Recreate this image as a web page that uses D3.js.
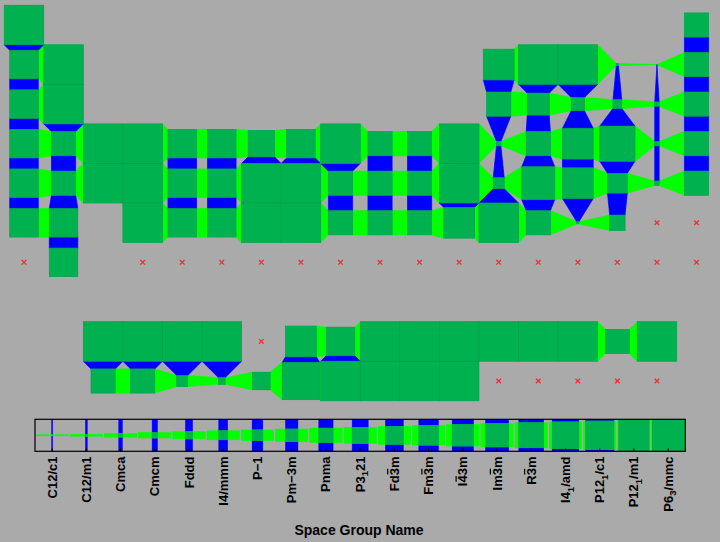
<!DOCTYPE html>
<html><head><meta charset="utf-8">
<script src="https://cdn.jsdelivr.net/npm/d3@7"></script>
<style>body{margin:0;background:#aaaaaa;} svg{display:block;}</style>
</head><body>
<svg id="chart" width="720" height="542"></svg>
<script>
// ---- data ----
const spaceGroups = ["C12/c1","C12/m1","Cmca","Cmcm","Fddd","I4/mmm","P-1","Pm-3m","Pnma","P3_121",
  "Fd-3m","Fm-3m","I-43m","Im-3m","R-3m","I4_1/amd","P12_1/c1","P12_1/m1","P6_3/mmc"];
// "_" = subscript next char, "^" = overbar next char
const spaceGroupLabels = ["C12/c1","C12/m1","Cmca","Cmcm","Fddd","I4/mmm","P\u22121","Pm\u22123m","Pnma","P3_121",
  "Fd^3m","Fm^3m","I^43m","Im^3m","R^3m","I4_1/amd","P12_1/c1","P12_1/m1","P6_3/mmc"];

const period1 = [["H",1,"P6_3/mmc"],["He",18,"Fm-3m"]];
const period2 = [["Li",1,"Im-3m"],["Be",2,"P6_3/mmc"],["B",13,"R-3m"],["C",14,"P6_3/mmc"],["N",15,"P6_3/mmc"],
  ["O",16,"C12/m1"],["F",17,"C12/c1"],["Ne",18,"Fm-3m"]];
const period3 = [["Na",1,"Im-3m"],["Mg",2,"P6_3/mmc"],["Al",13,"Fm-3m"],["Si",14,"Fd-3m"],["P",15,"P-1"],
  ["S",16,"Fddd"],["Cl",17,"Cmca"],["Ar",18,"Fm-3m"]];
const period4 = [["K",1,"Im-3m"],["Ca",2,"Fm-3m"],["Sc",3,"P6_3/mmc"],["Ti",4,"P6_3/mmc"],["V",5,"Im-3m"],
  ["Cr",6,"Im-3m"],["Mn",7,"I-43m"],["Fe",8,"Im-3m"],["Co",9,"P6_3/mmc"],["Ni",10,"Fm-3m"],["Cu",11,"Fm-3m"],
  ["Zn",12,"P6_3/mmc"],["Ga",13,"Cmca"],["Ge",14,"Fm-3m"],["As",15,"R-3m"],["Se",16,"P12_1/c1"],
  ["Br",17,"Cmca"],["Kr",18,"Fm-3m"]];
const period5 = [["Rb",1,"Im-3m"],["Sr",2,"Fm-3m"],["Y",3,"P6_3/mmc"],["Zr",4,"P6_3/mmc"],["Nb",5,"Im-3m"],
  ["Mo",6,"Im-3m"],["Tc",7,"P6_3/mmc"],["Ru",8,"P6_3/mmc"],["Rh",9,"Fm-3m"],["Pd",10,"Fm-3m"],["Ag",11,"Fm-3m"],
  ["Cd",12,"P6_3/mmc"],["In",13,"I4/mmm"],["Sn",14,"I4_1/amd"],["Sb",15,"R-3m"],["Te",16,"P3_121"],
  ["I",17,"Cmca"],["Xe",18,"Fm-3m"]];
const period6 = [["Cs",1,"Im-3m"],["Ba",2,"Im-3m"],["Hf",4,"P6_3/mmc"],["Ta",5,"Im-3m"],["W",6,"Im-3m"],
  ["Re",7,"P6_3/mmc"],["Os",8,"P6_3/mmc"],["Ir",9,"Fm-3m"],["Pt",10,"Fm-3m"],["Au",11,"Fm-3m"],["Hg",12,"R-3m"],
  ["Tl",13,"P6_3/mmc"],["Pb",14,"Fm-3m"],["Bi",15,"C12/m1"],["Po",16,"Pm-3m"],["At",17,null],["Rn",18,null]];
const period7 = [["Fr",1,null],["Ra",2,"Im-3m"],["Rf",4,null],["Db",5,null],["Sg",6,null],["Bh",7,null],
  ["Hs",8,null],["Mt",9,null],["Ds",10,null],["Rg",11,null],["Cn",12,null],["Nh",13,null],["Fl",14,null],
  ["Mc",15,null],["Lv",16,null],["Ts",17,null],["Og",18,null]];
const lanthanides = [["La",3,"P6_3/mmc"],["Ce",4,"P6_3/mmc"],["Pr",5,"P6_3/mmc"],["Nd",6,"P6_3/mmc"],["Pm",7,null],
  ["Sm",8,"R-3m"],["Eu",9,"Im-3m"],["Gd",10,"P6_3/mmc"],["Tb",11,"P6_3/mmc"],["Dy",12,"P6_3/mmc"],
  ["Ho",13,"P6_3/mmc"],["Er",14,"P6_3/mmc"],["Tm",15,"P6_3/mmc"],["Yb",16,"Fm-3m"],["Lu",17,"P6_3/mmc"]];
const actinides = [["Ac",3,"Fm-3m"],["Th",4,"Fm-3m"],["Pa",5,"I4/mmm"],["U",6,"Cmcm"],["Np",7,"Pnma"],
  ["Pu",8,"P12_1/m1"],["Am",9,"P6_3/mmc"],["Cm",10,"P6_3/mmc"],["Bk",11,"P6_3/mmc"],["Cf",12,"P6_3/mmc"],
  ["Es",13,null],["Fm",14,null],["Md",15,null],["No",16,null],["Lr",17,null]];
// display rows 1..10 (row 8 is the gap above the f-block)
const tableRows = [period1, period2, period3, period4, period5, period6, period7, [], lanthanides, actinides];

// ---- colours ----
const BG = "#aaaaaa", DARK = "#00b14f", LIGHT = "#00ff00", BLUE = "#0000ff";

const svg = d3.select("#chart");
svg.append("rect").attr("width", 720).attr("height", 542).attr("fill", BG);

// ---- scales ----
const x = d3.scaleLinear().domain([1, 18]).range([24, 696.5]);
const y = d3.scaleLinear().domain([1, 10]).range([25, 381]);
const pitch = x(2) - x(1);
const size = d3.scalePoint().domain(spaceGroups).range([0, pitch]);

const cells = [];
tableRows.forEach((row, ri) => row.forEach(([sym, grp, sg]) => cells.push({sym, grp, row: ri + 1, sg})));
const lookup = new Map(cells.map(c => [c.row + "-" + c.grp, c]));

const hLinks = [], vLinks = [];
cells.filter(c => c.sg).forEach(c => {
  const r = lookup.get(c.row + "-" + (c.grp + 1));
  if (r && r.sg) hLinks.push([c, r]);
  const b = lookup.get((c.row + 1) + "-" + c.grp);
  if (b && b.sg) vLinks.push([c, b]);
});

const map = svg.append("g");
map.selectAll("polygon.h").data(hLinks).join("polygon").attr("class", "h")
  .attr("points", ([a, b]) => {
    const sa = size(a.sg), sb = size(b.sg), cy = y(a.row);
    const ax = x(a.grp) + sa / 2, bx = x(b.grp) - sb / 2;
    return [[ax, cy - sa / 2], [bx, cy - sb / 2], [bx, cy + sb / 2], [ax, cy + sa / 2]].join(" ");
  })
  .attr("fill", LIGHT).attr("stroke", LIGHT).attr("stroke-width", 0.7);

map.selectAll("polygon.v").data(vLinks).join("polygon").attr("class", "v")
  .attr("points", ([a, b]) => {
    const sa = size(a.sg), sb = size(b.sg), cx = x(a.grp);
    const ay = y(a.row) + sa / 2, by = y(b.row) - sb / 2;
    return [[cx - sa / 2, ay], [cx + sa / 2, ay], [cx + sb / 2, by], [cx - sb / 2, by]].join(" ");
  })
  .attr("fill", BLUE).attr("stroke", BLUE).attr("stroke-width", 0.7);

map.selectAll("rect.cell").data(cells.filter(c => c.sg)).join("rect").attr("class", "cell")
  .attr("x", c => x(c.grp) - size(c.sg) / 2)
  .attr("y", c => y(c.row) - size(c.sg) / 2)
  .attr("width", c => size(c.sg)).attr("height", c => size(c.sg))
  .attr("fill", DARK).attr("stroke", "#00a34c").attr("stroke-width", 0.7);

map.selectAll("path.miss").data(cells.filter(c => !c.sg)).join("path").attr("class", "miss")
  .attr("transform", c => `translate(${x(c.grp)},${y(c.row)})`)
  .attr("d", "M-2.3,-2.3L2.3,2.3M-2.3,2.3L2.3,-2.3")
  .attr("stroke", "#ee3030").attr("stroke-width", 1.3).attr("fill", "none");

// ---- legend strip ----
const lTop = 419.3, lH = 32;
const lx = d3.scaleBand().domain(spaceGroups).range([35, 685.3]);
const bw = lx.bandwidth();
const lSize = d3.scalePoint().domain(spaceGroups).range([0, lH]);
const mid = lTop + lH / 2;
const minS = d => Math.max(lSize(d), 1);

svg.append("clipPath").attr("id", "lclip").append("rect")
  .attr("x", 35).attr("y", lTop).attr("width", 650.3).attr("height", lH);
const leg = svg.append("g").attr("clip-path", "url(#lclip)");
const lg = leg.selectAll("g").data(spaceGroups).join("g");
lg.append("rect").attr("x", d => lx(d) + bw / 2 - minS(d) / 2).attr("y", lTop)
  .attr("width", d => minS(d)).attr("height", lH)
  .attr("fill", BLUE).attr("stroke", BLUE).attr("stroke-width", 0.5);
lg.append("rect").attr("x", d => lx(d) + 0.9).attr("y", d => mid - minS(d) / 2)
  .attr("width", bw - 1.8).attr("height", d => minS(d))
  .attr("fill", LIGHT).attr("stroke", LIGHT).attr("stroke-width", 0.6);
lg.filter(d => lSize(d) > 0).append("rect")
  .attr("x", d => lx(d) + bw / 2 - lSize(d) / 2).attr("y", d => mid - lSize(d) / 2)
  .attr("width", d => lSize(d)).attr("height", d => lSize(d))
  .attr("fill", DARK).attr("stroke", "#00a34c").attr("stroke-width", 0.6);

svg.append("rect").attr("x", 35).attr("y", lTop).attr("width", 650.3).attr("height", lH)
  .attr("fill", "none").attr("stroke", "#000").attr("stroke-width", 1.2);

const axis = svg.append("g").attr("transform", `translate(0,${lTop + lH})`)
  .call(d3.axisBottom(lx).tickSize(-3).tickFormat(() => ""));
axis.select(".domain").remove();
axis.selectAll(".tick line").attr("stroke", "#000");

// rotated labels with subscripts/overbars
const FS = 13;
spaceGroups.forEach((sg, i) => {
  const label = spaceGroupLabels[i];
  const g = svg.append("g")
    .attr("transform", `translate(${lx(sg) + bw / 2},456.5) rotate(-90)`);
  const t = g.append("text").attr("y", 4.5).attr("text-anchor", "end")
    .attr("font-family", "Liberation Sans, Arial, Helvetica, sans-serif")
    .attr("font-weight", "bold").attr("font-size", FS).attr("fill", "#000");
  let idx = 0, pendingUp = false;
  const bars = [];
  let buf = "";
  const flush = () => {
    if (!buf) return;
    const ts = t.append("tspan").text(buf);
    if (pendingUp) { ts.attr("dy", -3.5); pendingUp = false; }
    buf = "";
  };
  for (let k = 0; k < label.length; k++) {
    const ch = label[k];
    if (ch === "_") {
      flush();
      const s = label[++k];
      const ts = t.append("tspan").text(s).attr("font-size", 9.5);
      ts.attr("dy", pendingUp ? 0 : 3.5);
      pendingUp = true;
      idx++;
    } else if (ch === "^") {
      bars.push(idx);
    } else {
      buf += ch; idx++;
    }
  }
  flush();
  bars.forEach(ci => {
    const e = t.node().getExtentOfChar(ci);
    g.append("line").attr("x1", e.x + 0.8).attr("x2", e.x + e.width - 0.8)
      .attr("y1", 4.5 - 11.2).attr("y2", 4.5 - 11.2)
      .attr("stroke", "#000").attr("stroke-width", 1.2);
  });
});

svg.append("text").attr("x", 359).attr("y", 535).attr("text-anchor", "middle")
  .attr("font-family", "Liberation Sans, Arial, Helvetica, sans-serif")
  .attr("font-weight", "bold").attr("font-size", 14).attr("fill", "#000")
  .text("Space Group Name");
</script>
</body></html>
